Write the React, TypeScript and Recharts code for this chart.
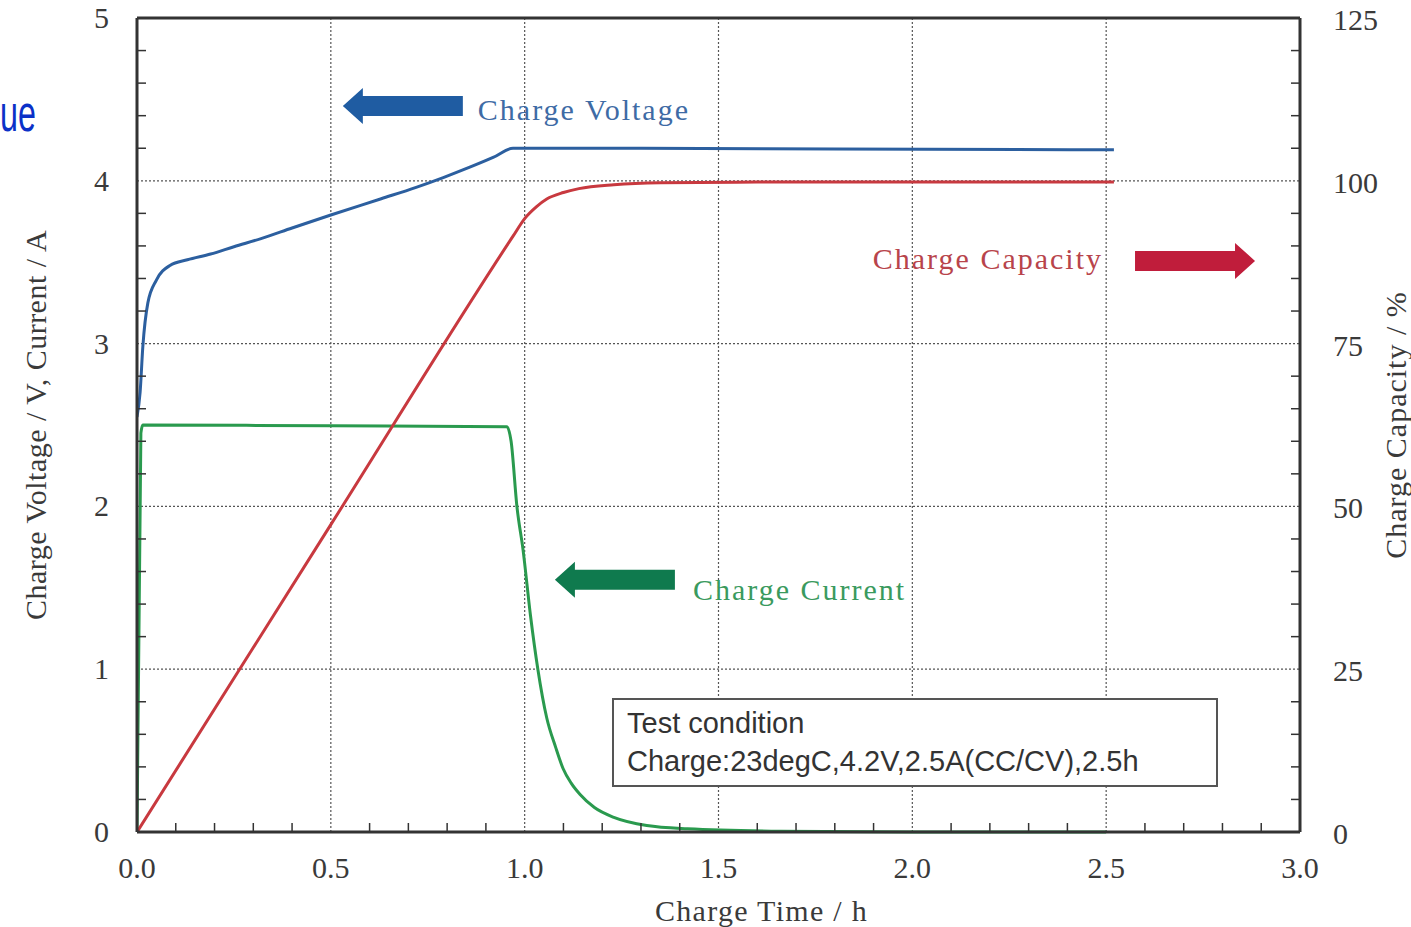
import React from 'react';
import { LineChart, Line, XAxis, YAxis, CartesianGrid, ReferenceLine, ReferenceDot } from 'recharts';

// charge time (h) / value pairs
const voltageTime = [0, 0.008, 0.015, 0.028, 0.05, 0.085, 0.13, 0.19, 0.25, 0.32, 0.4, 0.5, 0.63, 0.72, 0.79, 0.86, 0.92, 0.97, 1.3, 1.8, 2.52];
const voltageValue = [2.55, 2.7, 2.98, 3.25, 3.39, 3.48, 3.515, 3.55, 3.595, 3.645, 3.71, 3.79, 3.89, 3.96, 4.02, 4.085, 4.145, 4.2, 4.2, 4.195, 4.19];

const currentTime = [0, 0.01, 0.015, 0.5, 0.954, 0.965, 0.98, 0.996, 1.015, 1.034, 1.057, 1.08, 1.099, 1.12, 1.143, 1.18, 1.23, 1.315, 1.42, 1.66, 2.0, 2.5];
const currentValue = [0, 2.45, 2.5, 2.495, 2.49, 2.4, 2.0, 1.73, 1.33, 1.0, 0.7, 0.52, 0.39, 0.3, 0.23, 0.15, 0.09, 0.04, 0.02, 0.005, 0, 0];

const capacityTime = [0, 0.5, 0.97, 1.0, 1.03, 1.057, 1.1, 1.14, 1.23, 1.35, 1.6, 2.0, 2.52];
const capacityValue = [0, 47.2, 91.5, 94.2, 96.0, 97.2, 98.2, 98.8, 99.4, 99.7, 99.8, 99.8, 99.8];

const xMajor = [0, 0.5, 1, 1.5, 2, 2.5, 3];
const leftMajor = [0, 1, 2, 3, 4, 5];
const rightMajor = [0, 25, 50, 75, 100, 125];

const SERIF = '"Liberation Serif", "Times New Roman", serif';
const SANS = '"Liberation Sans", Arial, sans-serif';
const AXIS = '#333';
const LABEL = '#3a3a3a';

const toData = (t: number[], v: number[]) => t.map((x, i) => ({ t: x, v: v[i] }));

const withMinor = (major: number[], parts: number) => {
  const out: number[] = [];
  for (let i = 0; i < major.length - 1; i++) {
    const step = (major[i + 1] - major[i]) / parts;
    for (let k = 0; k < parts; k++) out.push(+(major[i] + k * step).toFixed(4));
  }
  out.push(major[major.length - 1]);
  return out;
};

const XTick = (props: any) => {
  const { x, y, payload } = props;
  const isMajor = xMajor.includes(payload.value);
  return (
    <g>
      {!isMajor && <line x1={x} x2={x} y1={y} y2={y - 9} stroke={AXIS} strokeWidth={1.5} />}
      {isMajor && (
        <text x={x} y={y + 46} textAnchor="middle" fontFamily={SERIF} fontSize={30} fill={LABEL}>
          {payload.value.toFixed(1)}
        </text>
      )}
    </g>
  );
};

const LeftTick = (props: any) => {
  const { x, y, payload } = props;
  const isMajor = leftMajor.includes(payload.value);
  return (
    <g>
      {!isMajor && <line x1={x} x2={x + 9} y1={y} y2={y} stroke={AXIS} strokeWidth={1.5} />}
      {isMajor && (
        <text x={x - 28} y={y + 10} textAnchor="end" fontFamily={SERIF} fontSize={30} fill={LABEL}>
          {payload.value}
        </text>
      )}
    </g>
  );
};

const RightTick = (props: any) => {
  const { x, y, payload } = props;
  const isMajor = rightMajor.includes(payload.value);
  return (
    <g>
      {!isMajor && <line x1={x} x2={x - 9} y1={y} y2={y} stroke={AXIS} strokeWidth={1.5} />}
      {isMajor && (
        <text x={x + 33} y={y + 12} textAnchor="start" fontFamily={SERIF} fontSize={30} fill={LABEL}>
          {payload.value}
        </text>
      )}
    </g>
  );
};

// block arrow with its caption, tip sits on (cx, cy)
const Arrow = (props: any) => {
  const { cx, cy, dir, color, text, textColor, textDx, textDy } = props;
  const head = 20, len = 120, sh = 10, hh = 18;
  const pts = [
    [cx, cy],
    [cx - dir * head, cy - hh],
    [cx - dir * head, cy - sh],
    [cx - dir * len, cy - sh],
    [cx - dir * len, cy + sh],
    [cx - dir * head, cy + sh],
    [cx - dir * head, cy + hh],
  ].map((p) => p.join(',')).join(' ');
  return (
    <g>
      <polygon points={pts} fill={color} />
      <text
        x={cx + textDx}
        y={cy + textDy}
        textAnchor={dir > 0 ? 'end' : 'start'}
        fontFamily={SERIF}
        fontSize={30}
        letterSpacing={2}
        fill={textColor}
      >
        {text}
      </text>
    </g>
  );
};

const App: React.FC = () => {
  return (
    <div style={{ position: 'absolute', left: 0, top: 0, width: 1411, height: 927, background: '#fff', overflow: 'hidden' }}>
      <div
        style={{
          position: 'absolute',
          left: 0,
          top: 87,
          fontFamily: SANS,
          fontSize: 52,
          color: '#0b31c8',
          transform: 'scaleX(0.62)',
          transformOrigin: 'left top',
          lineHeight: 1,
        }}
      >
        ue
      </div>

      <LineChart width={1411} height={927} margin={{ top: 18, right: 0, bottom: 0, left: 0 }}>
        <CartesianGrid
          yAxisId="left"
          stroke="#555"
          strokeDasharray="2 2"
          strokeWidth={1.2}
          horizontalValues={[1, 2, 3, 4]}
          verticalValues={[0.5, 1, 1.5, 2, 2.5]}
        />
        <XAxis
          dataKey="t"
          type="number"
          domain={[0, 3]}
          ticks={withMinor(xMajor, 5)}
          interval={0}
          height={95}
          tickSize={0}
          tickMargin={0}
          tick={<XTick />}
          axisLine={{ stroke: AXIS, strokeWidth: 3 }}
          allowDataOverflow
          label={{ value: 'Charge Time / h', position: 'insideBottom', offset: 6, dx: 43, fontFamily: SERIF, fontSize: 30, fill: LABEL, letterSpacing: 1.3 }}
        />
        <YAxis
          yAxisId="left"
          type="number"
          domain={[0, 5]}
          ticks={withMinor(leftMajor, 5)}
          interval={0}
          width={137}
          tickSize={0}
          tickMargin={0}
          tick={<LeftTick />}
          axisLine={{ stroke: AXIS, strokeWidth: 3 }}
          label={{
            value: 'Charge Voltage / V, Current / A',
            angle: -90,
            position: 'insideLeft',
            offset: 35,
            style: { textAnchor: 'middle' },
            fontFamily: SERIF,
            fontSize: 30,
            fill: LABEL,
            letterSpacing: 0.5,
          }}
        />
        <YAxis
          yAxisId="right"
          orientation="right"
          type="number"
          domain={[0, 125]}
          ticks={withMinor(rightMajor, 5)}
          interval={0}
          width={111}
          tickSize={0}
          tickMargin={0}
          tick={<RightTick />}
          axisLine={{ stroke: AXIS, strokeWidth: 3 }}
          label={{
            value: 'Charge Capacity / %',
            angle: -90,
            position: 'insideRight',
            offset: 16,
            style: { textAnchor: 'middle' },
            fontFamily: SERIF,
            fontSize: 30,
            fill: LABEL,
            letterSpacing: 1,
          }}
        />
        <ReferenceLine yAxisId="left" y={5} stroke={AXIS} strokeWidth={3} />

        <Line
          yAxisId="left"
          data={toData(currentTime, currentValue)}
          dataKey="v"
          type="monotone"
          stroke="#2a9a4e"
          strokeWidth={3}
          dot={false}
          isAnimationActive={false}
        />
        <Line
          yAxisId="right"
          data={toData(capacityTime, capacityValue)}
          dataKey="v"
          type="monotone"
          stroke="#c8393f"
          strokeWidth={3}
          dot={false}
          isAnimationActive={false}
        />
        <Line
          yAxisId="left"
          data={toData(voltageTime, voltageValue)}
          dataKey="v"
          type="monotone"
          stroke="#2c5f9f"
          strokeWidth={3}
          dot={false}
          isAnimationActive={false}
        />

        <ReferenceDot
          yAxisId="left"
          x={0.531}
          y={4.46}
          shape={<Arrow dir={-1} color="#1f5ca2" text="Charge Voltage" textColor="#3e6ba5" textDx={135} textDy={14} />}
        />
        <ReferenceDot
          yAxisId="right"
          x={2.884}
          y={87.7}
          shape={<Arrow dir={1} color="#c01d3b" text="Charge Capacity" textColor="#b8444b" textDx={-152} textDy={8} />}
        />
        <ReferenceDot
          yAxisId="left"
          x={1.078}
          y={1.55}
          shape={<Arrow dir={-1} color="#0f7a4e" text="Charge Current" textColor="#3a9a5e" textDx={138} textDy={20} />}
        />
      </LineChart>

      <div
        style={{
          position: 'absolute',
          left: 612,
          top: 698,
          width: 589,
          height: 81,
          border: '2px solid #555',
          background: '#fff',
          fontFamily: SANS,
          fontSize: 29,
          color: '#333',
          lineHeight: '38px',
          padding: '4px 0 0 13px',
          boxSizing: 'content-box',
          whiteSpace: 'nowrap',
        }}
      >
        <div>Test condition</div>
        <div>Charge:23degC,4.2V,2.5A(CC/CV),2.5h</div>
      </div>
    </div>
  );
};

export default App;
